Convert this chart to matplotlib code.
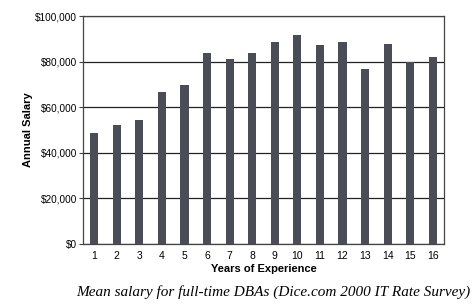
import matplotlib
matplotlib.use("Agg")
import matplotlib.pyplot as plt
from matplotlib.ticker import FuncFormatter

years = list(range(1, 17))
salary = [48700, 52200, 54200, 66800, 69900, 83900, 81300, 83800,
          88600, 91800, 87100, 88700, 76600, 87800, 79800, 81900]
y_ticks = [0, 20000, 40000, 60000, 80000, 100000]

caption = "Mean salary for full-time DBAs (Dice.com 2000 IT Rate Survey)"

fig = plt.figure(figsize=(4.75, 3.08), dpi=100)
ax = fig.add_axes([0.1747, 0.2078, 0.76, 0.74])

ax.bar(years, salary, width=0.36, color="#4a4d55", zorder=3)

ax.set_xlim(0.5, 16.5)
ax.set_ylim(0, 100000)
ax.set_yticks(y_ticks)
ax.set_xticks(years)
ax.yaxis.set_major_formatter(FuncFormatter(lambda v, p: "${:,.0f}".format(v)))
ax.grid(axis="y", color="#222222", linewidth=0.9, zorder=1)

for s in ax.spines.values():
    s.set_color("#444444")
    s.set_linewidth(0.9)

ax.tick_params(axis="y", labelsize=7.2, length=3, pad=1, color="#444444")
ax.tick_params(axis="x", labelsize=7.5, length=0, pad=5)
for lab in ax.get_xticklabels() + ax.get_yticklabels():
    lab.set_family("Liberation Sans")

ax.set_ylabel("Annual Salary", fontsize=8, fontweight="bold",
              family="Liberation Sans", labelpad=2)
ax.set_xlabel("Years of Experience", fontsize=8, fontweight="bold",
              family="Liberation Sans", labelpad=2)

fig.text(0.576, 0.052, caption, ha="center", va="center", fontsize=11,
         style="italic", family="Liberation Serif")

fig.savefig("out.png", dpi=100)
